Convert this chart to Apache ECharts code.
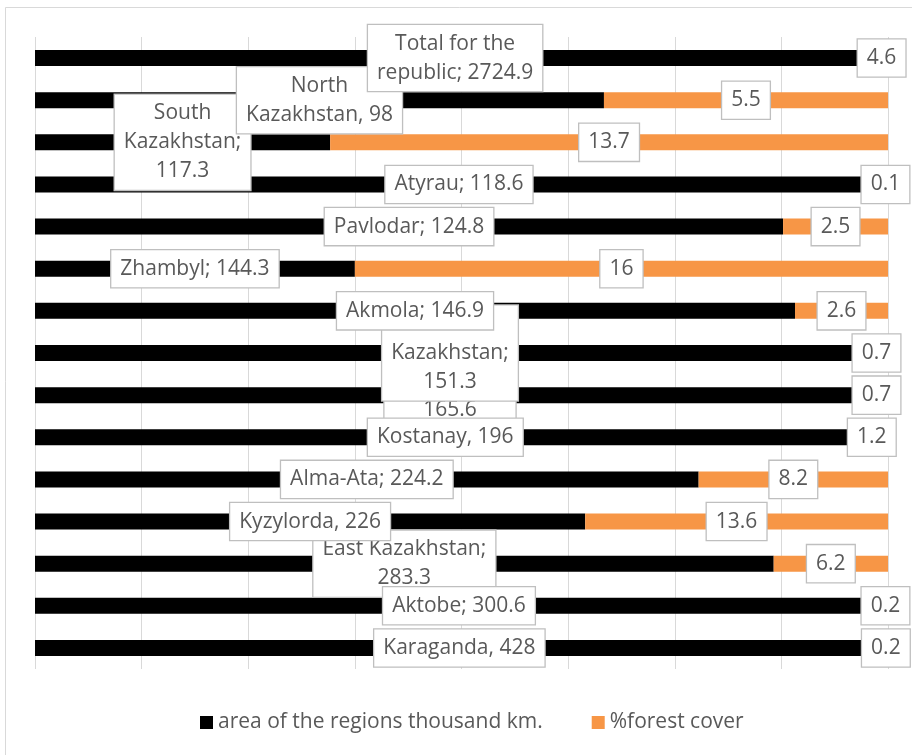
<!DOCTYPE html>
<html>
<head>
<meta charset="utf-8">
<title>Regions of Kazakhstan: area and forest cover</title>
<script src="https://cdn.jsdelivr.net/npm/echarts@6/dist/echarts.min.js"></script>
<style>
  html, body { margin: 0; padding: 0; background: #ffffff; }
  #chart { width: 912px; height: 755px; }
</style>
</head>
<body>
<div id="chart"></div>
<script>
// Regions listed bottom to top, in the order the rows are stacked on the axis.
const regions = [
  'Karaganda', 'Aktobe', 'East Kazakhstan', 'Kyzylorda', 'Alma-Ata',
  'Kostanay', 'Mangystau', 'West Kazakhstan', 'Akmola', 'Zhambyl',
  'Pavlodar', 'Atyrau', 'South Kazakhstan', 'North Kazakhstan', 'Total for the republic'
];
// Region name as it is wrapped inside its label box.
const regionLabel = [
  'Karaganda', 'Aktobe', 'East Kazakhstan', 'Kyzylorda', 'Alma-Ata',
  'Kostanay', 'Mangystau', 'West\nKazakhstan', 'Akmola', 'Zhambyl',
  'Pavlodar', 'Atyrau', 'South\nKazakhstan', 'North\nKazakhstan', 'Total for the\nrepublic'
];
// Separator between name and value in each label.
const labelSep = [
  ', ', '; ', ';\n', ', ', '; ',
  ', ', ';\n', ';\n', '; ', '; ',
  '; ', '; ', ';\n', ', ', '; '
];
// Area of the regions, thousand km.
const area = [428, 300.6, 283.3, 226, 224.2, 196, 165.6, 151.3, 146.9, 144.3, 124.8, 118.6, 117.3, 98, 2724.9];
// Forest cover, %.
const forestCover = [0.2, 0.2, 6.2, 13.6, 8.2, 1.2, 0.7, 0.7, 2.6, 16, 2.5, 0.1, 13.7, 5.5, 4.6];
// Share of each 100% bar taken by the two segments.
const areaShare = [99.5, 99.4, 86.6, 64.5, 77.8, 96.2, 97.3, 97.3, 89.1, 37.5, 87.7, 99.4, 34.6, 66.7, 98.5];
const forestShare = [0.5, 0.6, 13.4, 35.5, 22.2, 3.8, 2.7, 2.7, 10.9, 62.5, 12.3, 0.6, 65.4, 33.3, 1.5];
// Rows whose area label sits above the labels of neighbouring rows.
const raisedLabels = ['Aktobe', 'Kostanay'];

const FONT = "'Open Sans', 'Noto Sans', sans-serif";
const TEXT = '#595959';

const boxLabel = {
  show: true,
  position: 'inside',
  color: TEXT,
  fontFamily: FONT,
  fontSize: 21,
  lineHeight: 29,
  backgroundColor: '#ffffff',
  borderColor: '#bfbfbf',
  borderWidth: 1.3,
  padding: [4, 9]
};

const areaText = i => regionLabel[i] + labelSep[i] + area[i];
const isRaised = i => raisedLabels.indexOf(regions[i]) >= 0;

const chart = echarts.init(document.getElementById('chart'), null, { renderer: 'canvas' });

chart.setOption({
  animation: false,
  backgroundColor: '#ffffff',
  textStyle: { fontFamily: FONT },
  graphic: [{
    type: 'rect',
    silent: true,
    shape: { x: 5.5, y: 7.5, width: 930, height: 780 },
    style: { fill: 'none', stroke: '#d9d9d9', lineWidth: 1 }
  }],
  grid: { left: 35, right: 24, top: 37, height: 632, containLabel: false },
  xAxis: {
    type: 'value',
    min: 0,
    max: 100,
    interval: 12.5,
    axisLabel: { show: false },
    axisLine: { show: false },
    axisTick: { show: false },
    splitLine: { show: true, lineStyle: { color: '#d9d9d9', width: 1 } }
  },
  yAxis: {
    type: 'category',
    data: regions,
    axisLabel: { show: false },
    axisLine: { show: false },
    axisTick: { show: false },
    splitLine: { show: false }
  },
  legend: {
    left: 195,
    top: 707,
    itemWidth: 13,
    itemHeight: 13,
    itemGap: 49,
    icon: 'rect',
    textStyle: { color: TEXT, fontFamily: FONT, fontSize: 21 },
    data: ['area of the regions thousand km.', '%forest cover']
  },
  series: [
    {
      name: 'area of the regions thousand km.',
      type: 'bar',
      stack: 'total',
      barWidth: 16,
      barGap: '-100%',
      itemStyle: { color: '#000000' },
      data: areaShare.map((v, i) => ({
        value: v,
        label: { show: !isRaised(i) }
      })),
      label: Object.assign({}, boxLabel, {
        formatter: p => areaText(p.dataIndex)
      })
    },
    {
      name: '%forest cover',
      type: 'bar',
      stack: 'total',
      barWidth: 16,
      barGap: '-100%',
      itemStyle: { color: '#f79646' },
      data: forestShare,
      label: Object.assign({}, boxLabel, {
        formatter: p => String(forestCover[p.dataIndex])
      })
    },
    {
      // Transparent copy of the black segment carrying the raised labels.
      name: 'area labels',
      type: 'bar',
      barWidth: 16,
      barGap: '-100%',
      z: 5,
      silent: true,
      itemStyle: { color: 'rgba(0,0,0,0)' },
      data: areaShare.map((v, i) => (isRaised(i) ? v : '-')),
      label: Object.assign({}, boxLabel, {
        formatter: p => areaText(p.dataIndex)
      })
    }
  ]
});
</script>
</body>
</html>
